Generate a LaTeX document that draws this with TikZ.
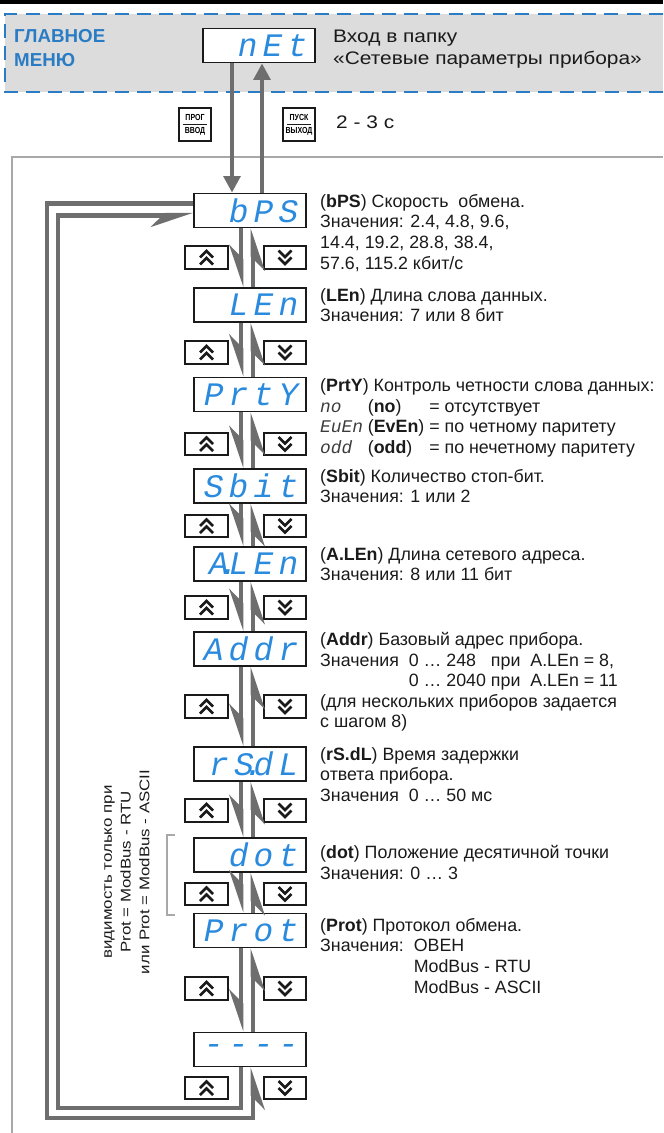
\documentclass[tikz,border=0pt]{standalone}
\usepackage{fontspec}
\setmainfont{Liberation Sans}
\newfontfamily\widefont{Liberation Sans}[FakeStretch=1.15]
\newfontfamily\notefont{Liberation Sans}[FakeStretch=1.2]
\newfontfamily\keyfont{Liberation Sans}[FakeStretch=0.8]
\newfontfamily\segfont{Liberation Mono}[LetterSpace=16]
\newfontfamily\seginl{Liberation Mono}
\usetikzlibrary{arrows.meta, positioning, calc}
\definecolor{cblue}{HTML}{2A8BDE}
\definecolor{chead}{HTML}{2A7CC4}
\definecolor{cband}{HTML}{DCDCDC}
\definecolor{cgrey}{HTML}{6E6E6E}
\definecolor{cframe}{HTML}{A8A8A8}
\definecolor{cink}{HTML}{1A1A1A}
\newcommand\segpt{\makebox[0pt]{.}}
\tikzset{
  every picture/.style={x=0.03cm, y=-0.03cm},
  disp/.style={draw=cink, line width=1.5pt, fill=white, minimum width=3.36cm, minimum height=1.02cm,
    text width=2.9cm, align=right, inner xsep=0.23cm, inner ysep=0pt, text=cblue,
    font=\segfont\itshape\fontsize{28}{28}\selectfont},
  key/.style={draw=cink, line width=1.5pt, fill=white, minimum width=1.28cm, minimum height=0.68cm, inner sep=0pt},
  keyup/.style={key, path picture={
    \draw[line width=2.2pt] (path picture bounding box.center) ++(-6.5,0) -- ++(6.5,-6.5) -- ++(6.5,6.5);
    \draw[line width=2.2pt] (path picture bounding box.center) ++(-6.5,7) -- ++(6.5,-6.5) -- ++(6.5,6.5);}},
  keydn/.style={key, path picture={
    \draw[line width=2.2pt] (path picture bounding box.center) ++(-6.5,-7) -- ++(6.5,6.5) -- ++(6.5,-6.5);
    \draw[line width=2.2pt] (path picture bounding box.center) ++(-6.5,0) -- ++(6.5,6.5) -- ++(6.5,-6.5);}},
  pkey/.style={draw=cink, line width=1.3pt, minimum width=0.96cm, minimum height=0.99cm, inner sep=1pt,
    align=center, font=\keyfont\bfseries\fontsize{7.5}{11}\selectfont, path picture={
    \draw[line width=0.6pt] ([xshift=3pt]path picture bounding box.west) -- ([xshift=-3pt]path picture bounding box.east);}},
  desc/.style={anchor=north west, align=left, inner sep=0pt, text=cink, font=\fontsize{15.2}{17.6}\selectfont},
  note/.style={align=center, inner sep=0pt, text=cink, font=\notefont\fontsize{12}{16}\selectfont},
  entry/.style={draw=cgrey, line width=4pt, -{Triangle[length=14pt, width=14pt]}},
  lnk/.style={draw=cgrey, line width=4pt, -{Stealth[harpoon, swap, length=30pt, width=20pt, inset=10pt]}},
}
\begin{document}
\begin{tikzpicture}
  \useasboundingbox (0,0) rectangle (663,1133);
  % header: main menu band
  \fill[black] (0,0) rectangle (663,4);
  \fill[cband] (5,14) rectangle (663,92);
  \draw[chead, line width=2pt, dash pattern=on 12pt off 7pt] (663,14) -- (5,14) -- (5,92) -- (663,92);
  \node[anchor=north west, align=left, inner sep=0pt, text=chead, font=\bfseries\fontsize{16}{21}\selectfont] (menu) at (14,29) {ГЛАВНОЕ\\МЕНЮ};
  \node[disp] (nEt) at (259,45.5) {nEt};
  \node[desc, font=\widefont\fontsize{15.5}{18.5}\selectfont] (nEtd) at (333,30) {Вход в папку\\«Сетевые параметры прибора»};
  \node[pkey] (prog) at (195,124.5) {ПРОГ\\ВВОД};
  \node[pkey] (pusk) at (299,124.5) {ПУСК\\ВЫХОД};
  \node[desc, anchor=west, font=\widefont\fontsize{15.5}{18.5}\selectfont] (hold) at (336,122) {2 - 3 с};
  % frame of the folder
  \draw[cframe, line width=2pt] (12,1133) |- (663,157);
  % parameter displays
  \node[disp] (bPS) at (250,210.5) {bPS};
  \node[disp] (LEn) at (250,305) {LEn};
  \node[disp] (PrtY) at (250,394.5) {PrtY};
  \node[disp] (Sbit) at (250,486) {Sbit};
  \node[disp] (ALEn) at (250,564) {A\segpt LEn};
  \node[disp] (Addr) at (250,649) {Addr};
  \node[disp] (rSdL) at (250,764) {rS\segpt dL};
  \node[disp] (dot) at (250,855) {dot};
  \node[disp] (Prot) at (250,930.5) {Prot};
  \node[disp] (dash) at (250,1049.5) {----};
  % up / down keys
  \node[keyup] (u1) at (206.5,257.5) {}; \node[keydn] (d1) at (285,257.5) {};
  \node[keyup] (u2) at (206.5,352.5) {}; \node[keydn] (d2) at (285,352.5) {};
  \node[keyup] (u3) at (206.5,444) {}; \node[keydn] (d3) at (285,444) {};
  \node[keyup] (u4) at (206.5,526) {}; \node[keydn] (d4) at (285,526) {};
  \node[keyup] (u5) at (206.5,607.5) {}; \node[keydn] (d5) at (285,607.5) {};
  \node[keyup] (u6) at (206.5,706.5) {}; \node[keydn] (d6) at (285,706.5) {};
  \node[keyup] (u7) at (206.5,810.5) {}; \node[keydn] (d7) at (285,810.5) {};
  \node[keyup] (u8) at (206.5,894) {}; \node[keydn] (d8) at (285,894) {};
  \node[keyup] (u9) at (206.5,988.5) {}; \node[keydn] (d9) at (285,988.5) {};
  \node[keyup] (u10) at (206.5,1088) {}; \node[keydn] (d10) at (285,1088) {};
  % descriptions
  \node[desc] (bPSd) at (320,194) {(\textbf{bPS}) Скорость\ \ обмена.\\Значения: 2.4, 4.8, 9.6,\\14.4, 19.2, 28.8, 38.4,\\57.6, 115.2 кбит/с};
  \node[desc] (LEnd) at (320,288) {(\textbf{LEn}) Длина слова данных.\\Значения: 7 или 8 бит};
  \node[desc] (PrtYd) at (320,377) {\begin{tabular}{@{}l@{\ }l@{\ }l@{}}
    \multicolumn{3}{@{}l@{}}{(\textbf{PrtY}) Контроль четности слова данных:}\\
    {\seginl\itshape\color{cink!85}no} & (\textbf{no}) & = отсутствует\\
    {\seginl\itshape\color{cink!85}EuEn} & (\textbf{EvEn}) & = по четному паритету\\
    {\seginl\itshape\color{cink!85}odd} & (\textbf{odd}) & = по нечетному паритету
  \end{tabular}};
  \node[desc] (Sbitd) at (320,469) {(\textbf{Sbit}) Количество стоп-бит.\\Значения: 1 или 2};
  \node[desc] (ALEnd) at (320,547) {(\textbf{A.LEn}) Длина сетевого адреса.\\Значения: 8 или 11 бит};
  \node[desc] (Addrd) at (320,632) {(\textbf{Addr}) Базовый адрес прибора.\\Значения\ \ 0 … 248\ \ \ при\ \ A.LEn = 8,\\\phantom{Значения\ \ }0 … 2040\ при\ \ A.LEn = 11\\(для нескольких приборов задается\\с шагом 8)};
  \node[desc] (rSdLd) at (320,747) {(\textbf{rS.dL}) Время задержки\\ответа прибора.\\Значения\ \ 0 … 50 мс};
  \node[desc] (dotd) at (320,845) {(\textbf{dot}) Положение десятичной точки\\Значения: 0 … 3};
  \node[desc] (Protd) at (320,918) {(\textbf{Prot}) Протокол обмена.\\Значения:\ \ ОВЕН\\\phantom{Значения:\ \ }ModBus - RTU\\\phantom{Значения:\ \ }ModBus - ASCII};
  % visibility note with bracket
  \node[note, rotate=90] (vis) at (127,872) {видимость только при\\Prot = ModBus - RTU\\или Prot = ModBus - ASCII};
  \draw[cframe, line width=1pt] (175,835) -- (167,835) -- (167,915) -- (175,915);
  % entering and leaving the folder
  \coordinate (edn) at (232,0); \coordinate (eup) at (262,0);
  \draw[entry] (nEt.south -| edn) -- (bPS.north -| edn);
  \draw[entry] (bPS.north -| eup) -- (nEt.south -| eup);
  % moving through the list
  \coordinate (xdn) at (241,0); \coordinate (xup) at (253,0);
  \draw[lnk] (bPS.south -| xdn) -- (LEn.north -| xdn); \draw[lnk] (LEn.north -| xup) -- (bPS.south -| xup);
  \draw[lnk] (LEn.south -| xdn) -- (PrtY.north -| xdn); \draw[lnk] (PrtY.north -| xup) -- (LEn.south -| xup);
  \draw[lnk] (PrtY.south -| xdn) -- (Sbit.north -| xdn); \draw[lnk] (Sbit.north -| xup) -- (PrtY.south -| xup);
  \draw[lnk] (Sbit.south -| xdn) -- (ALEn.north -| xdn); \draw[lnk] (ALEn.north -| xup) -- (Sbit.south -| xup);
  \draw[lnk] (ALEn.south -| xdn) -- (Addr.north -| xdn); \draw[lnk] (Addr.north -| xup) -- (ALEn.south -| xup);
  \draw[lnk] (Addr.south -| xdn) -- (rSdL.north -| xdn); \draw[lnk] (rSdL.north -| xup) -- (Addr.south -| xup);
  \draw[lnk] (rSdL.south -| xdn) -- (dot.north -| xdn); \draw[lnk] (dot.north -| xup) -- (rSdL.south -| xup);
  \draw[lnk] (dot.south -| xdn) -- (Prot.north -| xdn); \draw[lnk] (Prot.north -| xup) -- (dot.south -| xup);
  \draw[lnk] (Prot.south -| xdn) -- (dash.north -| xdn); \draw[lnk] (dash.north -| xup) -- (Prot.south -| xup);
  % wrap-around between the last and the first item
  \coordinate (lo) at (47,1118); \coordinate (li) at (58,1108);
  \draw[lnk] ([yshift=6pt]bPS.west) -| (lo) -| (dash.south -| xup);
  \draw[lnk] (dash.south -| xdn) |- (li) |- ([yshift=-4pt]bPS.west);
\end{tikzpicture}
\end{document}
